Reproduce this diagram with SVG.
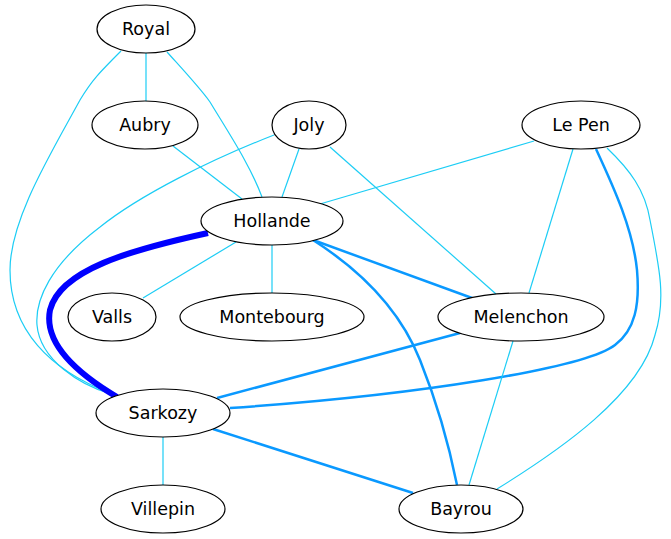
<svg xmlns="http://www.w3.org/2000/svg" width="671" height="539" viewBox="0 0 671 539">
<style>
.n ellipse{fill:#fff;stroke:#000;stroke-width:1.2}
.n text{font-family:"DejaVu Sans",sans-serif;font-size:17.5px;text-anchor:middle;fill:#000}
.e path{fill:none}
.t{stroke:#1ccdf5;stroke-width:1.2}
.m{stroke:#0a99ff;stroke-width:2.5}
.b{stroke:#0000ff;stroke-width:6}
</style>
<rect width="671" height="539" fill="#fff"/>
<g id="edges" class="e">
<path class="t" d="M146,53 L146,101"/>
<path class="t" d="M167,52 C185,72 200,88 210,102 C230,135 250,165 262,197"/>
<path class="t" d="M121,51 C100,72 92,80 80,100 C50,155 10,220 10,270 C10,330 50,370 110,393"/>
<path class="t" d="M173,146 L242,199"/>
<path class="t" d="M299,149 L282,197"/>
<path class="t" d="M274,135 C210,160 140,195 100,227 C50,265 35,300 37,325 C40,360 80,385 111,394"/>
<path class="t" d="M330,147 L496,294"/>
<path class="t" d="M534,141 L320,204"/>
<path class="t" d="M573,149 L529,293"/>
<path class="m" d="M596,149 C615,190 633,230 637,270 C640,305 635,330 615,345 C585,368 420,395 230,408"/>
<path class="t" d="M607,148 C630,170 645,190 650,220 C660,270 666,300 655,335 C640,395 560,450 497,489"/>
<path class="t" d="M236,242 L143,298"/>
<path class="t" d="M272,245 L272,293"/>
<path class="b" d="M208,233 C130,250 60,270 50,310 C43,345 80,375 117,397"/>
<path class="m" d="M313,240 L472,298"/>
<path class="m" d="M313,240 C360,270 400,310 420,360 C440,410 450,450 457,485"/>
<path class="m" d="M460,333 L217,398"/>
<path class="t" d="M513,341 L469,485"/>
<path class="t" d="M163,437 L163,485"/>
<path class="m" d="M213,429 L413,493"/>
</g>
<g id="Royal" class="n"><ellipse cx="146" cy="29" rx="49" ry="24"/><text x="146" y="35">Royal</text></g>
<g id="Aubry" class="n"><ellipse cx="145" cy="125" rx="53" ry="24"/><text x="145" y="131">Aubry</text></g>
<g id="Joly" class="n"><ellipse cx="309" cy="125" rx="37" ry="24"/><text x="309" y="131">Joly</text></g>
<g id="LePen" class="n"><ellipse cx="581" cy="125" rx="59" ry="24"/><text x="581" y="131">Le Pen</text></g>
<g id="Hollande" class="n"><ellipse cx="272" cy="221" rx="71" ry="24"/><text x="272" y="227">Hollande</text></g>
<g id="Valls" class="n"><ellipse cx="112" cy="317" rx="44" ry="24"/><text x="112" y="323">Valls</text></g>
<g id="Montebourg" class="n"><ellipse cx="272" cy="317" rx="92" ry="24"/><text x="272" y="323">Montebourg</text></g>
<g id="Melenchon" class="n"><ellipse cx="521" cy="317" rx="83" ry="24"/><text x="521" y="323">Melenchon</text></g>
<g id="Sarkozy" class="n"><ellipse cx="163" cy="413" rx="67" ry="24"/><text x="163" y="419">Sarkozy</text></g>
<g id="Villepin" class="n"><ellipse cx="163" cy="509" rx="62" ry="24"/><text x="163" y="515">Villepin</text></g>
<g id="Bayrou" class="n"><ellipse cx="461" cy="509" rx="62" ry="24"/><text x="461" y="515">Bayrou</text></g>
</svg>
